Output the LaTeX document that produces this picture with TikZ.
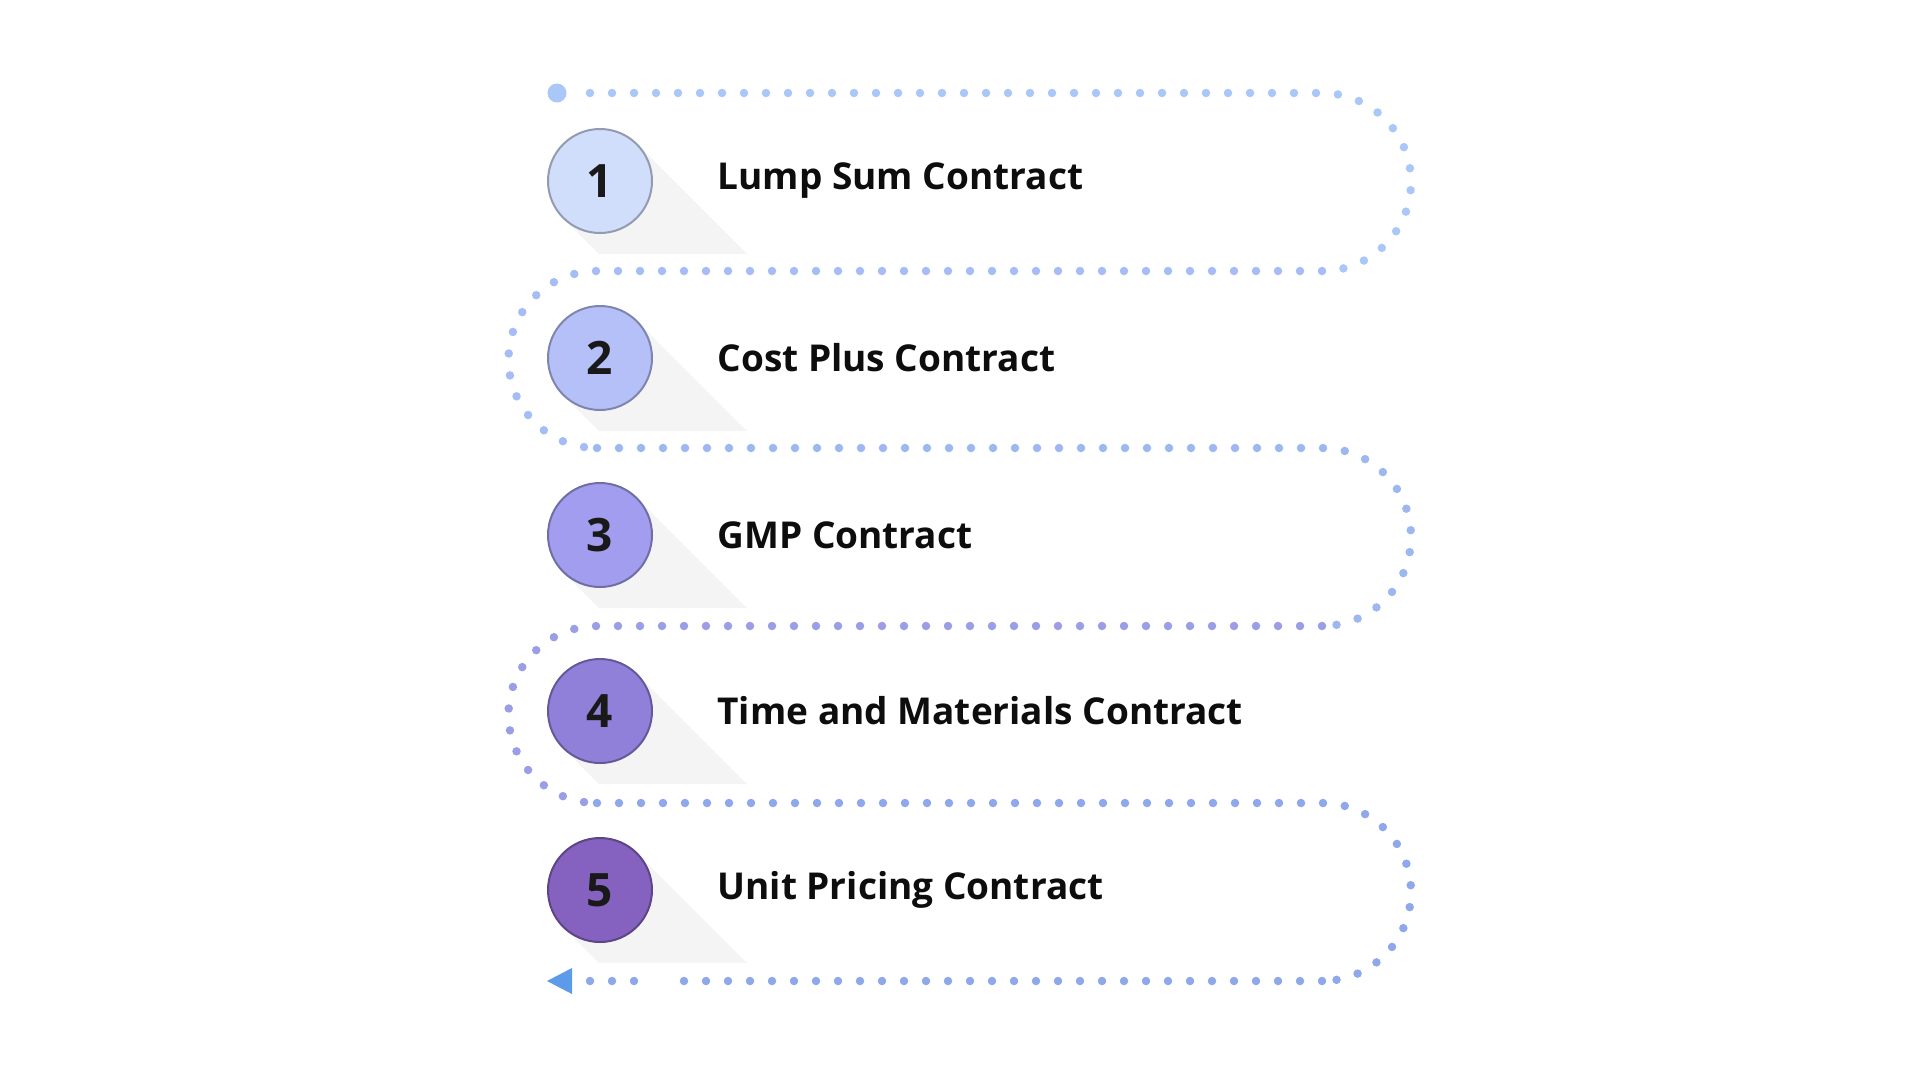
\documentclass[tikz,border=0pt]{standalone}
\usepackage{fontspec}
\setmainfont{Open Sans}
\begin{document}
\begin{tikzpicture}[x=1pt,y=-1pt,
  dots/.style={line width=8.5pt,line cap=round,dash pattern=on 0pt off 22pt},
  num/.style={circle,minimum size=104pt,draw=#1!70!black,line width=2pt,font=\fontsize{46}{50}\selectfont\bfseries,text=black!90},
  lbl/.style={anchor=west,font=\fontsize{37}{44}\selectfont\bfseries,text=black!95}]
\useasboundingbox (0,0) rectangle (1920,1080);
\definecolor{cA}{HTML}{D0DEFB}\definecolor{cB}{HTML}{B5C0F9}\definecolor{cC}{HTML}{A29DEE}
\definecolor{cD}{HTML}{9180DA}\definecolor{cE}{HTML}{8562C0}
\definecolor{dA}{HTML}{A9C7F7}\definecolor{dB}{HTML}{A6BCF5}\definecolor{dC}{HTML}{9DB7EF}
\definecolor{dD}{HTML}{9A9EE6}\definecolor{dE}{HTML}{8FA8EC}\definecolor{arr}{HTML}{5C9BE9}
\definecolor{shd}{HTML}{F4F4F4}
\foreach \c/\y/\t [count=\i] in {cA/181/Lump Sum Contract,cB/358/Cost Plus Contract,cC/535/GMP Contract,cD/711/Time and Materials Contract,cE/890/Unit Pricing Contract}{
  \fill[shd] (600+37,\y-37) -- (747,\y+73) -- (599,\y+73) -- (600-37,\y+37) -- cycle;
  \node[num=\c,fill=\c] (n\i) at (600,\y) {\i};
  \node[lbl] (t\i) at (714,\y) {\t};
}
\fill[dA] (557,93) circle (9.5);
\draw[dots,dA] (590,93) -- (1322,93) arc[start angle=-90,end angle=90,radius=89];
\draw[dots,dB] (1322,271) -- (597,271) arc[start angle=-90,end angle=-270,radius=88.5];
\draw[dots,dC] (597,448) -- (1322,448) arc[start angle=-90,end angle=90,radius=89];
\draw[dots,dD] (1322,626) -- (597,626) arc[start angle=-90,end angle=-270,radius=88.5];
\draw[dots,dE] (597,803) -- (1322,803) arc[start angle=-90,end angle=90,radius=89];
\draw[dots,dE] (1322,981) -- (672,981);
\draw[dots,dE] (590,981) -- (640,981);
\fill[arr] (547,981) -- (572,968) -- (572,994) -- cycle;
\end{tikzpicture}
\end{document}
